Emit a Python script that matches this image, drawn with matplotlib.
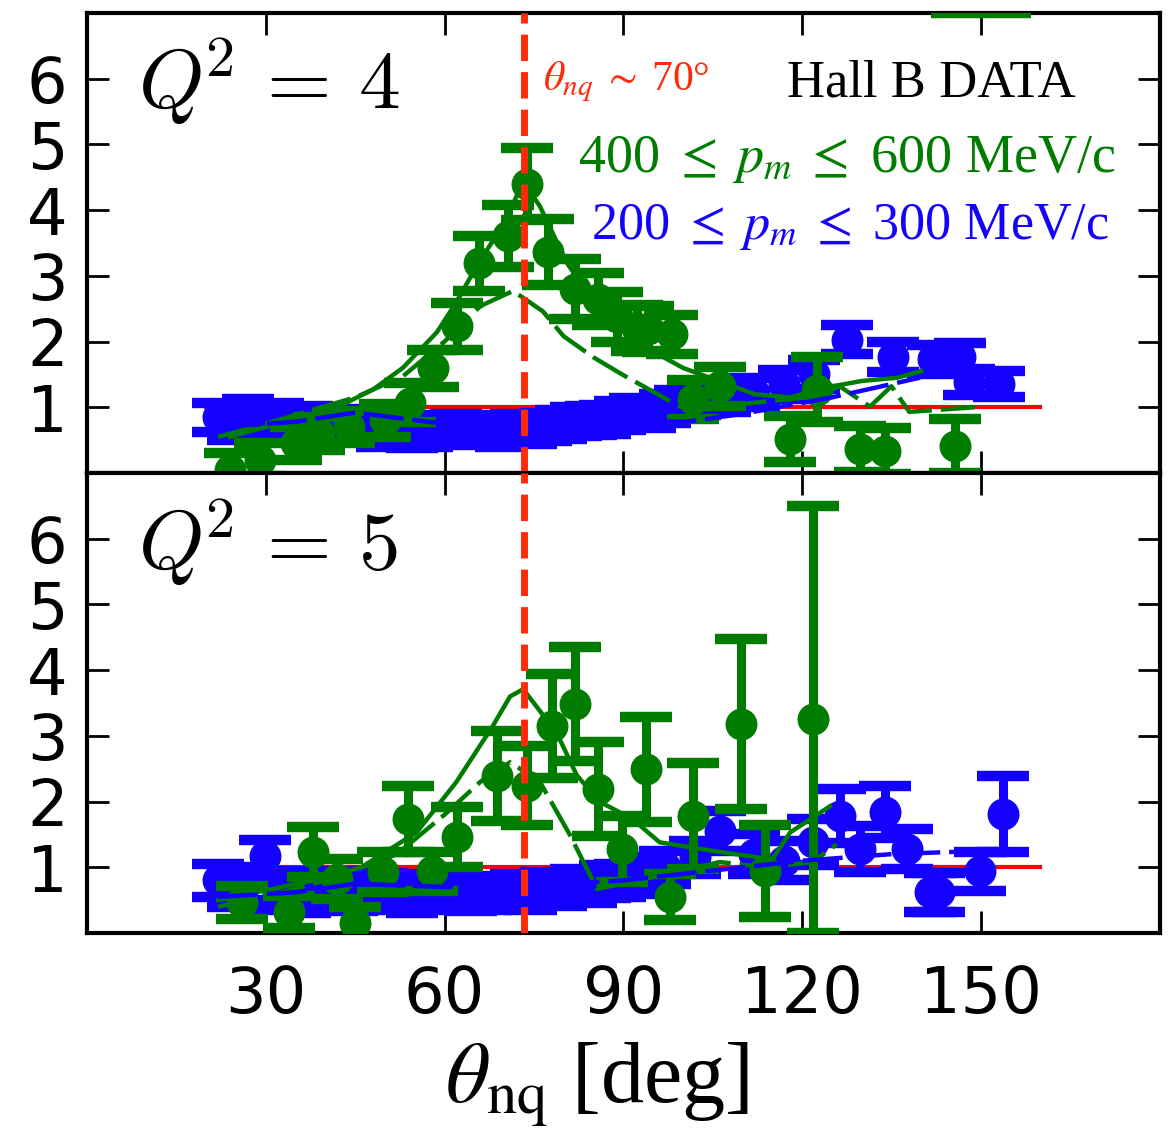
import numpy as np
import matplotlib
matplotlib.use('Agg')
import matplotlib.pyplot as plt

GREEN = '#007d00'
BLUE = '#1400ff'
RED = '#ff0000'
DASHRED = '#ff2a0a'

# ---- Q^2 = 4 : data points
g4_x = [24, 29, 35, 39, 44, 50, 54.2, 58.1, 62.1, 65.8, 70.6, 73.8, 77.4, 81.9, 85.7, 89, 92.3, 94.1, 98.2,
        101.7, 106.2, 118, 122.5, 129.7, 133.9, 145.6, 146, 154]
g4_y = [0.05, 0.2, 0.45, 0.6, 0.7, 0.8, 1.07, 1.59, 2.23, 3.19, 3.61, 4.40, 3.36, 2.8, 2.65, 2.37, 2.21, 2.19, 2.11,
        1.12, 1.32, 0.51, 1.27, 0.36, 0.33, 0.41, 8.0, 8.0]
g4_e = [0.25, 0.25, 0.25, 0.25, 0.25, 0.25, 0.3, 0.28, 0.36, 0.42, 0.47, 0.55, 0.5, 0.45, 0.4, 0.38, 0.35, 0.35, 0.3,
        0.3, 0.3, 0.35, 0.5, 0.35, 0.35, 0.41, 1.0, 1.0]

b4_x = [22, 24.5, 27, 29.5, 32, 34.5, 37, 39.5, 42, 44.5, 47, 49.5, 52, 54.5, 57, 59.5, 62, 64.5, 67, 69.5,
        72, 74.5, 77, 79.5, 82, 84.5, 87, 89.5, 92, 94.5, 97, 99.5, 102, 107, 112, 117, 122, 127.5, 135.2,
        142, 146.5, 148, 153]
b4_y = [0.85, 0.72, 0.9, 0.8, 0.85, 0.75, 0.8, 0.7, 0.75, 0.72, 0.7, 0.62, 0.65, 0.6, 0.62, 0.66, 0.68, 0.64,
        0.66, 0.62, 0.68, 0.66, 0.7, 0.74, 0.78, 0.8, 0.82, 0.88, 0.92, 0.9, 0.98, 1.05, 1.1, 1.15,
        1.22, 1.35, 1.5, 2.03, 1.76, 1.73, 1.76, 1.38, 1.35]
b4_e = [0.22] * 37 + [0.22, 0.23, 0.22, 0.22, 0.2, 0.2]

# ---- Q^2 = 4 : theory curves
t4a_x = [24, 30, 36, 42, 48, 53, 58.7, 62, 65.4, 70, 73.2, 76, 80.5, 83.6, 88, 92, 96, 100, 106, 112, 118, 124,
         130, 136, 140]
t4a_y = [0.55, 0.7, 0.85, 1.0, 1.27, 1.6, 2.14, 2.6, 3.15, 3.8, 4.43, 4.06, 3.2, 2.8, 2.3, 2.0, 1.8, 1.6, 1.4,
         1.2, 1.15, 1.3, 1.4, 1.45, 1.55]
t4b_x = [22, 30, 36.3, 45, 53, 60, 66, 71.5, 76.5, 80, 85, 89.8, 99.5, 110, 121.8, 126.3, 131.4, 135, 138, 149]
t4b_y = [0.55, 0.75, 0.92, 1.15, 1.47, 2.0, 2.54, 2.77, 2.46, 2.08, 1.76, 1.5, 1.01, 1.05, 1.16, 1.32, 1.01,
         1.32, 0.93, 1.0]
t4c_x = [22, 35, 45, 58, 70, 85, 100.7, 110, 125, 139.8]
t4c_y = [0.7, 0.78, 0.92, 0.77, 0.72, 0.8, 0.78, 0.9, 1.15, 1.45]

# ---- Q^2 = 5 : data points
g5_x = [26, 33.9, 37.9, 41.9, 45, 49.7, 53.9, 57.9, 62.1, 68.8, 73.8, 78, 81.9, 85.7, 89.8, 93.8, 97.8,
        101.7, 109.7, 113.8, 121.8]
g5_y = [0.47, 0.32, 1.23, 0.82, 0.15, 0.93, 1.73, 0.94, 1.46, 2.39, 2.24, 3.15, 3.48, 2.19, 1.28, 2.49, 0.55,
        1.78, 3.18, 0.94, 3.25]
g5_e = [0.25, 0.25, 0.38, 0.3, 0.25, 0.3, 0.5, 0.3, 0.45, 0.68, 0.6, 0.79, 0.87, 0.71, 0.5, 0.8, 0.35,
        0.8, 1.3, 0.7, 3.25]

b5_x = [22, 24.5, 26, 29.9, 32, 34, 36.5, 38, 40.5, 42, 44.5, 47, 49.5, 52, 54.5, 57, 59.5, 62, 64.5, 67,
        69.5, 72, 74.5, 77, 79.5, 82, 84.5, 87, 89.5, 92, 94.5, 97, 102, 106.2, 112, 117, 121.8,
        126.3, 129.7, 133.9, 137.6, 141.4, 143, 149.8, 153.7]
b5_y = [0.8, 0.65, 0.75, 1.17, 0.6, 0.7, 0.55, 0.65, 0.6, 0.7, 0.58, 0.62, 0.66, 0.6, 0.56, 0.65, 0.6, 0.62,
        0.58, 0.6, 0.62, 0.65, 0.6, 0.68, 0.66, 0.72, 0.7, 0.78, 0.8, 0.85, 0.9, 1.0, 1.15,
        1.55, 1.2, 1.1, 1.38, 1.78, 1.28, 1.84, 1.28, 0.62, 0.62, 0.94, 1.81]
b5_e = [0.25] * 30 + [0.25, 0.25, 0.25, 0.3, 0.3, 0.3, 0.35, 0.41, 0.35, 0.4, 0.3, 0.3, 0.3, 0.3, 0.58]

# ---- Q^2 = 5 : theory curves
t5a_x = [22, 30, 38, 46, 55.3, 62, 68.1, 71, 73.2, 78.8, 82.2, 86, 91.6, 96.1, 105, 115, 118, 124.7]
t5a_y = [0.5, 0.65, 0.8, 1.0, 1.53, 2.3, 3.15, 3.6, 3.71, 3.05, 2.4, 2.0, 1.73, 1.38, 1.25, 1.12, 1.53, 1.93]
t5b_x = [22, 32, 42, 52, 60, 66, 71, 76, 81, 85.6, 95, 106.2, 114, 121.8, 125.8]
t5b_y = [0.4, 0.6, 0.85, 1.2, 1.8, 2.3, 2.6, 2.3, 1.5, 0.67, 0.85, 1.08, 1.0, 1.08, 1.35]
t5c_x = [22, 35, 45, 60, 75, 90, 105, 120, 135, 150]
t5c_y = [0.55, 0.62, 0.75, 0.7, 0.72, 0.8, 0.95, 1.1, 1.2, 1.25]

theta_peak = 73.3

plt.rcParams['mathtext.fontset'] = 'stix'
plt.rcParams['font.family'] = 'DejaVu Sans'

fig = plt.figure(figsize=(11.76, 11.37), dpi=100)
ax1 = fig.add_axes([0.074, 0.584, 0.912, 0.4046])
ax2 = fig.add_axes([0.074, 0.1794, 0.912, 0.4046], sharex=ax1)

err_kw = dict(fmt='o', markersize=22, elinewidth=6.5, capsize=18.5, capthick=7.5)


def draw_panel(ax, bx, by, be, gx, gy, ge, curves):
    ax.plot([20, 160], [1, 1], color=RED, lw=3, zorder=1)
    ax.errorbar(bx, by, yerr=be, color=BLUE, zorder=2, **err_kw)
    ax.errorbar(gx, gy, yerr=ge, color=GREEN, zorder=3, **err_kw)
    for cx, cy, col, ls in curves:
        ax.plot(cx, cy, color=col, lw=3.2, ls=ls, zorder=4)
    ax.axvline(theta_peak, color=DASHRED, lw=5, ls=(0, (3.8, 1.6)), zorder=5)
    ax.set_xlim(0, 180)
    ax.set_ylim(0, 7)
    ax.set_xticks([30, 60, 90, 120, 150])
    ax.set_yticks([1, 2, 3, 4, 5, 6])
    ax.tick_params(direction='in', length=16, width=2, top=True, right=True,
                   labelsize=46, pad=14)
    for s in ax.spines.values():
        s.set_linewidth(3)


draw_panel(ax1, b4_x, b4_y, b4_e, g4_x, g4_y, g4_e,
           [(t4a_x, t4a_y, GREEN, '-'), (t4b_x, t4b_y, GREEN, (0, (9, 2))), (t4c_x, t4c_y, BLUE, (0, (9, 2)))])
draw_panel(ax2, b5_x, b5_y, b5_e, g5_x, g5_y, g5_e,
           [(t5a_x, t5a_y, GREEN, '-'), (t5b_x, t5b_y, GREEN, (0, (9, 2))), (t5c_x, t5c_y, BLUE, (0, (9, 2)))])

ax1.tick_params(labelbottom=False)
ax2.tick_params(axis='x', pad=22)

ax1.text(8.6, 5.54, r'$Q^{\!2}\,=\,4$', fontsize=60, math_fontfamily='cm', ha='left', va='baseline')
ax2.text(8.6, 5.53, r'$Q^{\!2}\,=\,5$', fontsize=60, math_fontfamily='cm', ha='left', va='baseline')

serif = 'Liberation Serif'
ax1.text(76.5, 5.82, r'$\theta_{nq}\;\sim\;$70°', color=DASHRED, fontsize=30, family=serif,
         ha='left', va='baseline', zorder=6)
ax1.text(117.4, 5.73, 'Hall B DATA', color='black', fontsize=38, family=serif,
         ha='left', va='baseline', zorder=6)
ax1.text(82.4, 4.58, r'400 $\leq\;p_m\;\leq$ 600 MeV/c', color=GREEN, fontsize=39, family=serif,
         ha='left', va='baseline', zorder=6)
ax1.text(84.6, 3.56, r'200 $\leq\;p_m\;\leq$ 300 MeV/c', color=BLUE, fontsize=37.5, family=serif,
         ha='left', va='baseline', zorder=6)

fig.text(0.508, 0.030, r'$\theta_{\rm nq}$ [deg]', fontsize=62, family=serif, ha='center', va='baseline')

fig.savefig('out.png', dpi=100)
